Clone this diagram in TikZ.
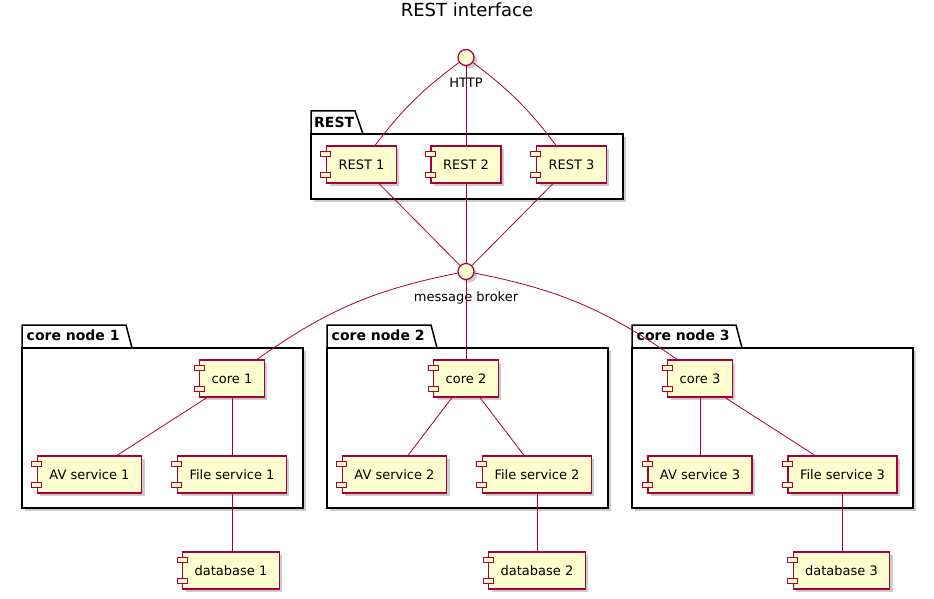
\documentclass[tikz,border=0pt]{standalone}
\usepackage{fontspec}
\setmainfont{DejaVu Sans}
\usetikzlibrary{shadows}

\definecolor{umlred}{HTML}{A80036}
\definecolor{umlfill}{HTML}{FEFECE}

\begin{document}
\begin{tikzpicture}[x=1pt,y=-1pt]
      \tikzstyle{pshadow}=[general shadow={fill=black!20,shadow xshift=3pt,shadow yshift=-3pt}]
      \tikzstyle{port}=[draw=umlred,fill=umlfill,line width=1pt]
      \tikzstyle{comp}=[draw=umlred,fill=umlfill,line width=1.2pt,inner xsep=12pt,minimum height=37pt,
        font=\fontsize{13}{15}\selectfont,pshadow]
      \tikzstyle{iface}=[circle,draw=umlred,fill=umlfill,line width=1.2pt,minimum size=16pt,inner sep=0pt,pshadow]
      \tikzstyle{pkg}=[draw=black,line width=1.5pt]
      \tikzstyle{pkgname}=[font=\bfseries\fontsize{14}{16}\selectfont,anchor=base west,inner sep=0pt]
      \tikzstyle{lbl}=[font=\fontsize{13}{15}\selectfont,anchor=base,inner sep=0pt]
      \tikzstyle{link}=[draw=umlred,line width=0.8pt]

      \useasboundingbox[fill=white] (0,0) rectangle (934,599);
      \node (title) at (467,17) [lbl,font=\fontsize{18}{22}\selectfont] {REST interface};

      % packages
      \draw[pkg,fill=white,pshadow] (311,134) rectangle (623,199);
      \draw[pkg] (311,134) -- (311,111) -- (355,111) -- (363,134);
      \node (restname) at (314,127.5) [pkgname] {REST};
      \foreach \i/\xa/\xb in {1/22/303,2/327/608,3/632/913} {
        \draw[pkg,fill=white,pshadow] (\xa,348) rectangle (\xb,508);
        \draw[pkg] (\xa,348) -- (\xa,325) -- (\xa+104,325) -- (\xa+110,348);
        \node (pkg\i) at (\xa+4.5,340.5) [pkgname] {core node \i};
      }

      % interfaces
      \node (http) at (466,57.5) [iface] {};
      \node (httplbl) at (466,88) [lbl] {HTTP};
      \node (broker) at (466,271.5) [iface] {};
      \node (brokerlbl) at (466,301.5) [lbl] {message broker};

      % components
      \node (rest1) at (361.5,164.5) [comp] {REST 1};
      \node (rest2) at (466,164.5) [comp] {REST 2};
      \node (rest3) at (571.5,164.5) [comp] {REST 3};
      \node (core1) at (232,378.5) [comp] {core 1};
      \node (core2) at (466,378.5) [comp] {core 2};
      \node (core3) at (700,378.5) [comp] {core 3};
      \node (av1) at (89.5,474.5) [comp] {AV service 1};
      \node (av2) at (394.5,474.5) [comp] {AV service 2};
      \node (av3) at (700,474.5) [comp] {AV service 3};
      \node (fs1) at (232,474.5) [comp] {File service 1};
      \node (fs2) at (537,474.5) [comp] {File service 2};
      \node (fs3) at (842.5,474.5) [comp] {File service 3};
      \node (db1) at (231,570.5) [comp] {database 1};
      \node (db2) at (537,570.5) [comp] {database 2};
      \node (db3) at (841.5,570.5) [comp] {database 3};

      % component ports
      \foreach \n in {rest1,rest2,rest3,core1,core2,core3,av1,av2,av3,fs1,fs2,fs3,db1,db2,db3} {
        \draw[port] ([xshift=-5pt,yshift=-6pt]\n.north west) rectangle ++(10pt,-5pt);
        \draw[port] ([xshift=-5pt,yshift=6pt]\n.south west) rectangle ++(10pt,5pt);
      }

      % connections
      \draw[link] (http) to[bend right=8] ([xshift=13.5pt]rest1.north);
      \draw[link] (http) -- (rest2);
      \draw[link] (http) to[bend left=8] ([xshift=-15.5pt]rest3.north);
      \draw[link] ([xshift=17.5pt]rest1.south) -- (broker);
      \draw[link] (rest2) -- (broker);
      \draw[link] ([xshift=-18.5pt]rest3.south) -- (broker);
      \draw[link] (broker) to[bend right=12] ([xshift=25pt]core1.north);
      \draw[link] (broker) -- (core2);
      \draw[link] (broker) to[bend left=12] ([xshift=-23pt]core3.north);
      \draw[link] ([xshift=-25pt]core1.south) -- ([xshift=27.5pt]av1.north);
      \draw[link] (core1) -- (fs1);
      \draw[link] (fs1.south) -- (fs1.south |- db1.north);
      \draw[link] ([xshift=-14pt]core2.south) -- ([xshift=13.5pt]av2.north);
      \draw[link] ([xshift=14pt]core2.south) -- ([xshift=-13pt]fs2.north);
      \draw[link] (fs2) -- (db2);
      \draw[link] (core3) -- (av3);
      \draw[link] ([xshift=25pt]core3.south) -- ([xshift=-27.5pt]fs3.north);
      \draw[link] (fs3.south) -- (fs3.south |- db3.north);
    \end{tikzpicture}
\end{document}
